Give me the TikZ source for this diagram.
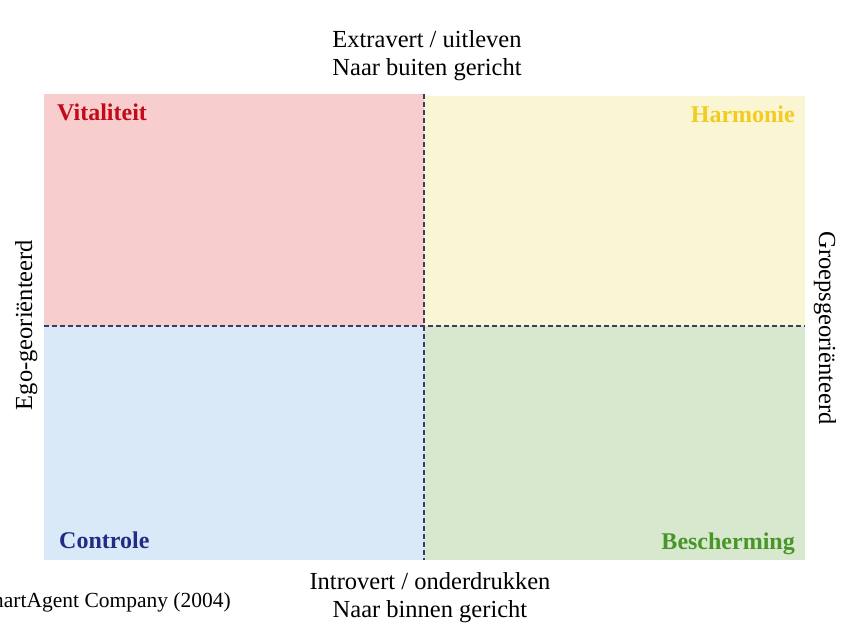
\documentclass[tikz,border=0pt]{standalone}
\usepackage{fontspec}
\setmainfont{Liberation Serif}
\usetikzlibrary{positioning}

\definecolor{vitalfill}{RGB}{247,205,205}
\definecolor{harmfill}{RGB}{250,246,211}
\definecolor{ctrlfill}{RGB}{217,233,248}
\definecolor{beschfill}{RGB}{216,232,207}
\definecolor{vitaltext}{RGB}{196,10,26}
\definecolor{harmtext}{RGB}{242,204,32}
\definecolor{ctrltext}{RGB}{34,44,132}
\definecolor{beschtext}{RGB}{72,150,40}
\definecolor{dividerline}{RGB}{58,58,108}

\begin{document}
\begin{tikzpicture}[
            x=1pt, y=-1pt,
            quad/.style={draw=none, inner sep=0pt, outer sep=0pt, anchor=north west},
            tag/.style={font=\fontsize{24}{28}\selectfont\bfseries, inner sep=0pt},
            axislabel/.style={font=\fontsize{24.5}{28}\selectfont, align=center, inner sep=0pt},
            divider/.style={draw=dividerline, line width=1.7pt, dash pattern=on 5pt off 3pt}
        ]
        \useasboundingbox (0,0) rectangle (854,624);

        % Quadrants
        \node[quad, fill=vitalfill, minimum width=380pt, minimum height=232pt] (vital) at (44,94) {};
        \node[quad, fill=harmfill, minimum width=381pt, minimum height=230pt] (harm) at (424,96) {};
        \node[quad, fill=ctrlfill, minimum width=380pt, minimum height=234pt] (ctrl) at (44,326) {};
        \node[quad, fill=beschfill, minimum width=381pt, minimum height=234pt] (besch) at (424,326) {};

        % Dividers
        \coordinate (vtop) at (424,94);
        \coordinate (vbot) at (424,560);
        \coordinate (hleft) at (44,326);
        \coordinate (hright) at (805,326);
        \draw[divider] (vtop) -- (vbot);
        \draw[divider] (hleft) -- (hright);

        % Quadrant names
        \node[tag, text=vitaltext, anchor=base west] (vitaltag) at (57,120) {Vitaliteit};
        \node[tag, text=harmtext, anchor=base east] (harmtag) at (795,122) {Harmonie};
        \node[tag, text=ctrltext, anchor=base west] (ctrltag) at (59,548) {Controle};
        \node[tag, text=beschtext, anchor=base east] (beschtag) at (795,549) {Bescherming};

        % Axes
        \node[axislabel, anchor=north] (extra) at (427,30) {Extravert / uitleven\\Naar buiten gericht};
        \node[axislabel, anchor=north] (intro) at (430,572) {Introvert / onderdrukken\\Naar binnen gericht};
        \node[axislabel, rotate=90, anchor=base] (ego) at (32,325) {Ego-georiënteerd};
        \node[axislabel, rotate=-90, anchor=base] (groep) at (819,328) {Groepsgeoriënteerd};

        % Source
        \node[font=\fontsize{21.5}{26}\selectfont, inner sep=0pt, anchor=base east] (source) at (231,607) {SmartAgent Company (2004)};
        \end{tikzpicture}
\end{document}
